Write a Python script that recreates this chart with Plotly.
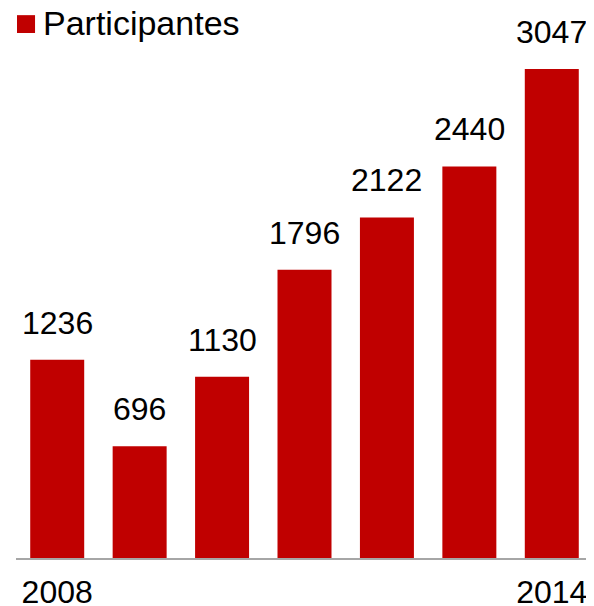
import plotly.graph_objects as go

# --- Data ---
years = ["2008", "2009", "2010", "2011", "2012", "2013", "2014"]
participantes = [1236, 696, 1130, 1796, 2122, 2440, 3047]
tick_years = ["2008", "2014"]

bar_color = "#C00000"
font_family = "Liberation Sans, Arial, sans-serif"

fig = go.Figure()

fig.add_trace(go.Bar(
    x=years, y=participantes,
    marker=dict(color=bar_color, line=dict(width=0)),
    name="Participantes",
    showlegend=False,
))

# value labels above the bars (category index for x)
for i, val in enumerate(participantes):
    fig.add_annotation(
        x=i, y=val, text=str(val), showarrow=False,
        yanchor="bottom", yshift=17,
        font=dict(size=32, color="black", family=font_family),
    )

# legend drawn by hand (square + text)
fig.add_shape(type="rect", xref="paper", yref="paper",
              x0=0.0017, x1=0.033, y0=0.9545, y1=0.987,
              fillcolor=bar_color, line=dict(width=0), layer="above")
fig.add_annotation(xref="paper", yref="paper", x=0.043, y=0.972,
                   text="Participantes", showarrow=False,
                   xanchor="left", yanchor="middle",
                   font=dict(size=34, color="black", family=font_family))

# page body adds an 8px margin, so the figure is 8px smaller than the window
fig.update_layout(
    width=586, height=598,
    margin=dict(l=8, r=1, t=0, b=48),
    plot_bgcolor="white", paper_bgcolor="white",
    bargap=0.345,
    font=dict(family=font_family, size=32, color="black"),
    xaxis=dict(
        type="category", range=[-0.5, 6.5],
        tickmode="array", tickvals=tick_years, ticktext=tick_years,
        showline=True, linecolor="#A6A6A6", linewidth=1.5,
        ticks="", showgrid=False, tickangle=0, automargin=False,
        ticklabelstandoff=5,
        tickfont=dict(size=32, color="black"),
    ),
    yaxis=dict(range=[0, 3427], visible=False, showgrid=False),
)

fig.write_html("out.html")
